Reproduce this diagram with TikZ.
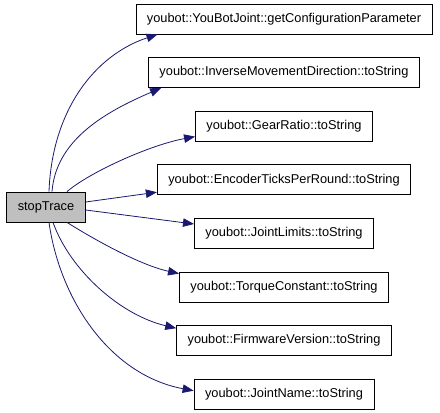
\documentclass[tikz,border=0pt]{standalone}
\usepackage{fontspec}
\setmainfont{Liberation Sans}
\usetikzlibrary{arrows.meta,positioning}

\definecolor{edgeblue}{HTML}{191970}
\definecolor{rootgray}{HTML}{BFBFBF}

\begin{document}
\begin{tikzpicture}[
  x=1pt, y=-1pt,
  node distance=22.8pt,
  fn/.style={draw, line width=0.8pt, minimum height=30pt, inner xsep=11pt,
    font=\fontsize{12.8}{15}\selectfont},
  root/.style={fn, fill=rootgray},
  call/.style={-{Triangle[length=11pt,width=8.5pt]}, edgeblue, line width=0.8pt}
]
\useasboundingbox (0,0) rectangle (440,413);

\node[root] (stop) at (46,207) {stopTrace};

\node[fn] (gcp) at (284,19) {youbot::YouBotJoint::getConfigurationParameter};
\node[fn, below=of gcp] (imd) {youbot::InverseMovementDirection::toString};
\node[fn, below=of imd] (gear) {youbot::GearRatio::toString};
\node[fn, below=of gear] (ticks) {youbot::EncoderTicksPerRound::toString};
\node[fn, below=of ticks] (limits) {youbot::JointLimits::toString};
\node[fn, below=of limits] (torque) {youbot::TorqueConstant::toString};
\node[fn, below=of torque] (firmware) {youbot::FirmwareVersion::toString};
\node[fn, below=of firmware] (jname) {youbot::JointName::toString};

\draw[call] ([xshift=3pt]stop.north) .. controls (52,110) and (95,55) .. ([xshift=22pt]gcp.south west);
\draw[call] ([xshift=6pt]stop.north) .. controls (56,140) and (105,112) .. ([xshift=13pt]imd.south west);
\draw[call] ([xshift=21pt]stop.north) .. controls (90,172) and (150,145) .. ([yshift=5pt]gear.south west);
\draw[call] ([yshift=5pt]stop.east) -- ([yshift=3pt]ticks.south west);
\draw[call] ([yshift=-3pt]stop.east) -- ([yshift=-6pt]limits.north west);
\draw[call] ([xshift=21pt]stop.south) .. controls (95,240) and (140,265) .. ([yshift=-2pt]torque.north west);
\draw[call] ([xshift=7pt]stop.south) .. controls (70,270) and (120,315) .. ([yshift=-3pt]firmware.north west);
\draw[call] ([xshift=3pt]stop.south) .. controls (60,300) and (110,375) .. ([yshift=3.5pt]jname.west);
\end{tikzpicture}
\end{document}
